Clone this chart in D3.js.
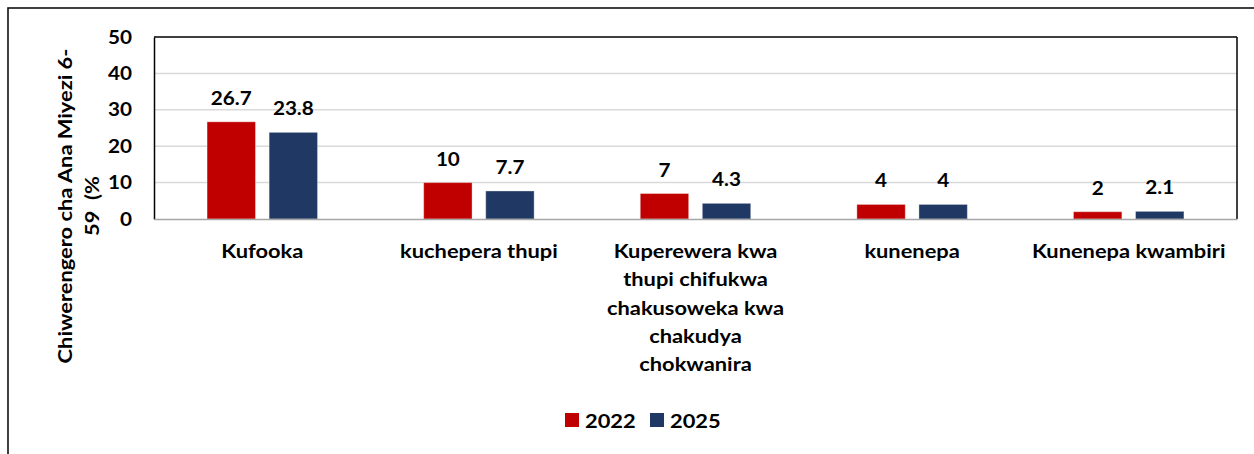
<!DOCTYPE html>
<html><head><meta charset="utf-8">
<script src="https://cdn.jsdelivr.net/npm/d3@7"></script>
<style>body{margin:0;background:#fff}svg{display:block}text{font-family:Lato,"Open Sans",sans-serif;font-weight:bold;fill:#000}</style>
</head><body><svg id="c" width="1254" height="454"></svg>
<script>
const categories = ["Kufooka","kuchepera thupi","Kuperewera kwa thupi chifukwa chakusoweka kwa chakudya chokwanira","kunenepa","Kunenepa kwambiri"];
const categoryLines = [["Kufooka"],["kuchepera thupi"],["Kuperewera kwa","thupi chifukwa","chakusoweka kwa","chakudya","chokwanira"],["kunenepa"],["Kunenepa kwambiri"]];
const seriesNames = ["2022","2025"];
const values2022 = [26.7,10,7,4,2];
const values2025 = [23.8,7.7,4.3,4,2.1];
const yTicks = [0,10,20,30,40,50];
const yTitleLines = ["Chiwerengero cha Ana Miyezi 6-","59  (%"];
const colors = ["#C00000","#203864"];
const SX = 1.15; // horizontal text stretch

const svg = d3.select("#c");
const L=154,R=1237,T=37,B=219;
svg.append("rect").attr("x",8).attr("y",8).attr("width",1260).attr("height",460).attr("fill","none").attr("stroke","#111").attr("stroke-width",1.6);

const y = d3.scaleLinear().domain([0,50]).range([B,T]);
const x0 = d3.scaleBand().domain(categories).range([L,R]).paddingInner(0.49).paddingOuter(0.245);
const x1 = d3.scaleBand().domain(seriesNames).range([0,x0.bandwidth()]).paddingInner(0.22);

svg.append("g").selectAll("line").data(yTicks.filter(t=>t>0&&t<50)).join("line")
 .attr("x1",L).attr("x2",R).attr("y1",d=>y(d)).attr("y2",d=>y(d)).attr("stroke","#d9d9d9").attr("stroke-width",1.5);

const data = categories.map((c,i)=>({c, vals:[values2022[i],values2025[i]]}));
const g = svg.append("g").selectAll("g").data(data).join("g").attr("transform",d=>`translate(${x0(d.c)},0)`);
g.selectAll("rect").data(d=>d.vals.map((v,j)=>({v,s:seriesNames[j],j}))).join("rect")
 .attr("x",d=>x1(d.s)).attr("width",x1.bandwidth()).attr("y",d=>y(d.v)).attr("height",d=>B-y(d.v)).attr("fill",d=>colors[d.j])
 .attr("stroke","#fff").attr("stroke-opacity",0.35).attr("stroke-width",1);
g.selectAll("text").data(d=>d.vals.map((v,j)=>({v,s:seriesNames[j]}))).join("text")
 .attr("transform",d=>`translate(${x1(d.s)+x1.bandwidth()/2},${y(d.v)-17}) scale(${SX},1)`)
 .attr("text-anchor","middle").style("font-size","18px").text(d=>d.v);

svg.append("line").attr("x1",L).attr("x2",R).attr("y1",T).attr("y2",T).attr("stroke","#000").attr("stroke-width",1.5);
svg.append("line").attr("x1",R).attr("x2",R).attr("y1",T).attr("y2",B).attr("stroke","#000").attr("stroke-width",1.5);

const yAxis = svg.append("g").attr("transform",`translate(${L},0)`).call(d3.axisLeft(y).tickValues(yTicks).tickSize(0).tickFormat(""));
yAxis.select(".domain").attr("stroke","#000").attr("stroke-width",1.5);
svg.append("g").selectAll("text").data(yTicks).join("text")
 .attr("transform",d=>`translate(${L-22},${y(d)+6.5}) scale(${SX},1)`).attr("text-anchor","end").style("font-size","18px").text(d=>d);
const xAxis = svg.append("g").attr("transform",`translate(0,${B})`).call(d3.axisBottom(x0).tickSize(0).tickFormat(""));
xAxis.select(".domain").attr("stroke","#a6a6a6").attr("stroke-width",1.5);

svg.append("g").selectAll("text").data(categories).join("text")
 .attr("text-anchor","middle").style("font-size","19px")
 .attr("transform",(d)=>`translate(${x0(d)+x0.bandwidth()/2},258) scale(${SX},1)`)
 .each(function(d,i){const t=d3.select(this);categoryLines[i].forEach((l,k)=>t.append("tspan").attr("x",0).attr("y",k*28.3).text(l));});

const yt = svg.append("text").attr("transform",`translate(72,206) rotate(-90) scale(${SX},1)`).attr("text-anchor","middle").style("font-size","19px");
yTitleLines.forEach((l,k)=>yt.append("tspan").attr("x",0).attr("y",k*27).attr("xml:space","preserve").style("white-space","pre").text(l));

const lg = svg.append("g").selectAll("g").data(seriesNames).join("g").attr("transform",(d,i)=>`translate(${565+i*85},413)`);
lg.append("rect").attr("width",14).attr("height",14).attr("fill",(d,i)=>colors[i]);
lg.append("text").attr("transform",`translate(20,15) scale(${SX},1)`).style("font-size","19px").text(d=>d);
</script></body></html>
